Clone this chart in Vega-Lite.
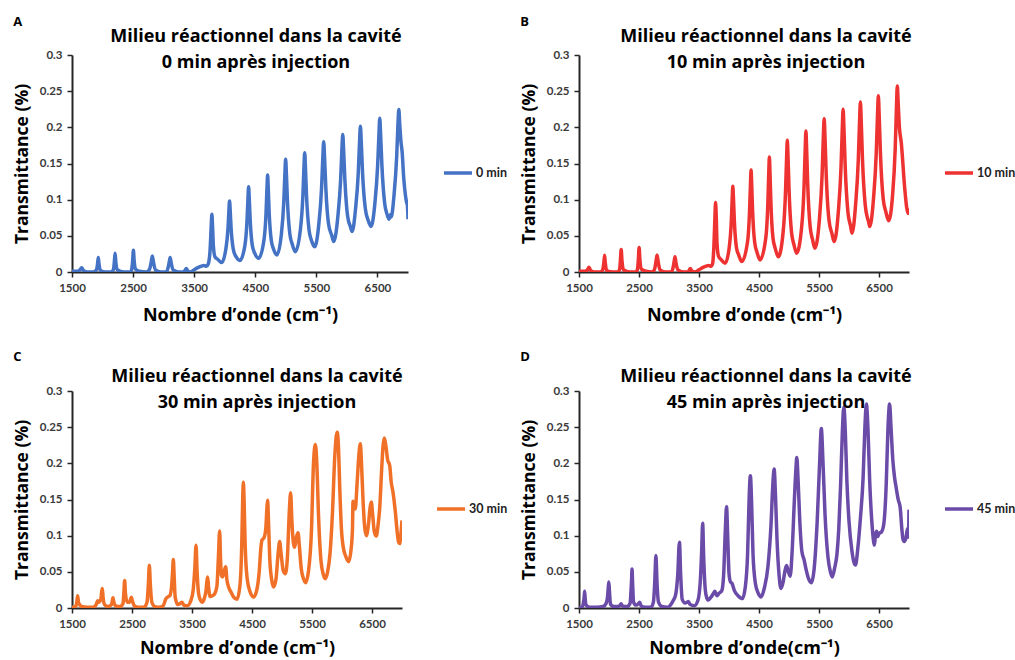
{
"$schema": "https://vega.github.io/schema/vega-lite/v6.json",
"background": "white",
"padding": {"left": 13, "top": 16, "right": 0, "bottom": 2},
"datasets": {
"A": [{"x":1500,"y":0.001},{"x":1600,"y":0.001},{"x":1630,"y":0.003},{"x":1658,"y":0.006},{"x":1690,"y":0.002},{"x":1750,"y":0},{"x":1850,"y":0},{"x":1900,"y":0.003},{"x":1918,"y":0.011},{"x":1930,"y":0.02},{"x":1942,"y":0.011},{"x":1965,"y":0.002},{"x":2050,"y":0},{"x":2150,"y":0},{"x":2180,"y":0.004},{"x":2193,"y":0.014},{"x":2205,"y":0.026},{"x":2217,"y":0.014},{"x":2240,"y":0.003},{"x":2350,"y":0},{"x":2460,"y":0},{"x":2480,"y":0.005},{"x":2493,"y":0.016},{"x":2505,"y":0.03},{"x":2517,"y":0.016},{"x":2540,"y":0.004},{"x":2600,"y":0.001},{"x":2720,"y":0},{"x":2770,"y":0.004},{"x":2795,"y":0.013},{"x":2815,"y":0.022},{"x":2835,"y":0.013},{"x":2865,"y":0.003},{"x":2950,"y":0},{"x":3040,"y":0},{"x":3070,"y":0.005},{"x":3090,"y":0.013},{"x":3107,"y":0.02},{"x":3125,"y":0.012},{"x":3155,"y":0.003},{"x":3250,"y":0},{"x":3330,"y":0},{"x":3355,"y":0.003},{"x":3370,"y":0.005},{"x":3390,"y":0.002},{"x":3440,"y":0},{"x":3500,"y":0.003},{"x":3560,"y":0.006},{"x":3620,"y":0.008},{"x":3660,"y":0.009},{"x":3700,"y":0.008},{"x":3730,"y":0.011},{"x":3760,"y":0.03},{"x":3778,"y":0.062},{"x":3790,"y":0.08},{"x":3802,"y":0.06},{"x":3815,"y":0.035},{"x":3840,"y":0.021},{"x":3880,"y":0.018},{"x":3950,"y":0.013},
{"x":4019,"y":0.032},{"x":4054,"y":0.061},{"x":4069,"y":0.086},{"x":4079,"y":0.098},{"x":4089,"y":0.086},{"x":4104,"y":0.061},{"x":4139,"y":0.032},{"x":4179,"y":0.022},{"x":4250,"y":0.016},
{"x":4331,"y":0.037},{"x":4366,"y":0.073},{"x":4381,"y":0.103},{"x":4391,"y":0.118},{"x":4401,"y":0.103},{"x":4416,"y":0.073},{"x":4451,"y":0.037},{"x":4491,"y":0.026},{"x":4555,"y":0.019},
{"x":4642,"y":0.044},{"x":4677,"y":0.083},{"x":4692,"y":0.117},{"x":4702,"y":0.134},{"x":4712,"y":0.117},{"x":4727,"y":0.083},{"x":4762,"y":0.044},{"x":4802,"y":0.031},{"x":4855,"y":0.0235},
{"x":4927,"y":0.052},{"x":4967,"y":0.0975},{"x":4985,"y":0.1365},{"x":4997,"y":0.156},{"x":5009,"y":0.1365},{"x":5027,"y":0.0975},{"x":5067,"y":0.052},{"x":5107,"y":0.038},{"x":5156,"y":0.028},
{"x":5239,"y":0.059},{"x":5279,"y":0.105},{"x":5297,"y":0.145},{"x":5309,"y":0.165},{"x":5321,"y":0.145},{"x":5339,"y":0.105},{"x":5379,"y":0.059},{"x":5419,"y":0.044},{"x":5473,"y":0.035},
{"x":5540,"y":0.066},{"x":5585,"y":0.116},{"x":5606,"y":0.159},{"x":5620,"y":0.18},{"x":5634,"y":0.159},{"x":5655,"y":0.116},{"x":5700,"y":0.066},{"x":5750,"y":0.051},{"x":5784,"y":0.042},
{"x":5852,"y":0.077},{"x":5897,"y":0.127},{"x":5918,"y":0.169},{"x":5932,"y":0.19},{"x":5946,"y":0.169},{"x":5967,"y":0.127},{"x":6012,"y":0.077},{"x":6060,"y":0.062},{"x":6085,"y":0.056},
{"x":6141,"y":0.087},{"x":6186,"y":0.137},{"x":6207,"y":0.18},{"x":6221,"y":0.2015},{"x":6235,"y":0.18},{"x":6256,"y":0.137},{"x":6301,"y":0.088},{"x":6350,"y":0.071},{"x":6396,"y":0.063},
{"x":6458,"y":0.095},{"x":6503,"y":0.147},{"x":6524,"y":0.19},{"x":6538,"y":0.2125},{"x":6552,"y":0.19},{"x":6573,"y":0.147},{"x":6618,"y":0.095},{"x":6660,"y":0.079},{"x":6690,"y":0.073},{"x":6710,"y":0.079},{"x":6725,"y":0.076},
{"x":6770,"y":0.105},{"x":6815,"y":0.16},{"x":6836,"y":0.205},{"x":6850,"y":0.2245},{"x":6864,"y":0.205},{"x":6885,"y":0.18},{"x":6904,"y":0.166},{"x":6930,"y":0.13},{"x":6955,"y":0.108},{"x":6975,"y":0.097},{"x":6990,"y":0.092},{"x":7000,"y":0.073}],
"B": [{"x":1500,"y":0.001},{"x":1600,"y":0.001},{"x":1640,"y":0.003},{"x":1666,"y":0.0065},{"x":1695,"y":0.002},{"x":1760,"y":0},{"x":1860,"y":0},{"x":1895,"y":0.003},{"x":1913,"y":0.012},{"x":1926,"y":0.023},{"x":1939,"y":0.012},{"x":1960,"y":0.002},{"x":2060,"y":0},{"x":2150,"y":0},{"x":2178,"y":0.004},{"x":2190,"y":0.016},{"x":2203,"y":0.031},{"x":2216,"y":0.016},{"x":2240,"y":0.003},{"x":2350,"y":0},{"x":2455,"y":0},{"x":2477,"y":0.005},{"x":2490,"y":0.018},{"x":2502,"y":0.034},{"x":2514,"y":0.018},{"x":2540,"y":0.004},{"x":2620,"y":0.001},{"x":2720,"y":0},{"x":2760,"y":0.004},{"x":2782,"y":0.014},{"x":2801,"y":0.0236},{"x":2820,"y":0.014},{"x":2850,"y":0.003},{"x":2950,"y":0},{"x":3035,"y":0},{"x":3065,"y":0.005},{"x":3083,"y":0.013},{"x":3100,"y":0.021},{"x":3118,"y":0.012},{"x":3150,"y":0.003},{"x":3250,"y":0},{"x":3320,"y":0},{"x":3340,"y":0.003},{"x":3355,"y":0.005},{"x":3375,"y":0.002},{"x":3430,"y":0},{"x":3500,"y":0.003},{"x":3560,"y":0.006},{"x":3620,"y":0.008},{"x":3660,"y":0.009},{"x":3700,"y":0.008},{"x":3725,"y":0.011},{"x":3748,"y":0.035},{"x":3765,"y":0.075},{"x":3776,"y":0.096},{"x":3788,"y":0.075},{"x":3800,"y":0.04},{"x":3825,"y":0.022},{"x":3870,"y":0.017},{"x":3936,"y":0.012},
{"x":4004,"y":0.034},{"x":4039,"y":0.071},{"x":4054,"y":0.103},{"x":4064,"y":0.1185},{"x":4074,"y":0.103},{"x":4089,"y":0.071},{"x":4124,"y":0.034},{"x":4164,"y":0.023},{"x":4213,"y":0.0144},
{"x":4308,"y":0.041},{"x":4343,"y":0.085},{"x":4358,"y":0.122},{"x":4368,"y":0.141},{"x":4378,"y":0.122},{"x":4393,"y":0.085},{"x":4428,"y":0.041},{"x":4468,"y":0.027},{"x":4518,"y":0.0167},
{"x":4613,"y":0.047},{"x":4648,"y":0.096},{"x":4663,"y":0.138},{"x":4673,"y":0.159},{"x":4683,"y":0.138},{"x":4698,"y":0.096},{"x":4733,"y":0.047},{"x":4773,"y":0.032},{"x":4822,"y":0.021},
{"x":4902,"y":0.055},{"x":4942,"y":0.111},{"x":4960,"y":0.158},{"x":4972,"y":0.182},{"x":4984,"y":0.158},{"x":5002,"y":0.111},{"x":5042,"y":0.055},{"x":5082,"y":0.038},{"x":5127,"y":0.026},
{"x":5212,"y":0.063},{"x":5252,"y":0.121},{"x":5270,"y":0.17},{"x":5282,"y":0.195},{"x":5294,"y":0.17},{"x":5312,"y":0.121},{"x":5352,"y":0.063},{"x":5392,"y":0.045},{"x":5431,"y":0.033},
{"x":5506,"y":0.072},{"x":5551,"y":0.133},{"x":5572,"y":0.186},{"x":5586,"y":0.212},{"x":5600,"y":0.186},{"x":5621,"y":0.133},{"x":5666,"y":0.072},{"x":5716,"y":0.053},{"x":5752,"y":0.042},
{"x":5822,"y":0.083},{"x":5867,"y":0.145},{"x":5888,"y":0.198},{"x":5902,"y":0.225},{"x":5916,"y":0.198},{"x":5937,"y":0.145},{"x":5982,"y":0.083},{"x":6025,"y":0.064},{"x":6051,"y":0.0537},
{"x":6110,"y":0.093},{"x":6155,"y":0.155},{"x":6176,"y":0.208},{"x":6190,"y":0.235},{"x":6204,"y":0.208},{"x":6225,"y":0.155},{"x":6270,"y":0.093},{"x":6310,"y":0.074},{"x":6325,"y":0.07},{"x":6345,"y":0.063},
{"x":6409,"y":0.102},{"x":6454,"y":0.164},{"x":6475,"y":0.217},{"x":6489,"y":0.2435},{"x":6503,"y":0.217},{"x":6524,"y":0.164},{"x":6569,"y":0.102},{"x":6615,"y":0.083},{"x":6661,"y":0.071},
{"x":6725,"y":0.105},{"x":6770,"y":0.17},{"x":6791,"y":0.228},{"x":6805,"y":0.257},{"x":6819,"y":0.235},{"x":6840,"y":0.2},{"x":6871,"y":0.179},{"x":6926,"y":0.1185},{"x":6960,"y":0.09},{"x":6985,"y":0.081},{"x":7000,"y":0.088}],
"C": [{"x":1500,"y":0.001},{"x":1560,"y":0.002},{"x":1580,"y":0.008},{"x":1594,"y":0.017},{"x":1608,"y":0.008},{"x":1625,"y":0.005},{"x":1660,"y":0.002},{"x":1750,"y":0.001},{"x":1850,"y":0.001},{"x":1900,"y":0.004},{"x":1928,"y":0.01},{"x":1950,"y":0.008},{"x":1980,"y":0.012},{"x":1994,"y":0.022},{"x":2006,"y":0.027},{"x":2018,"y":0.015},{"x":2040,"y":0.005},{"x":2100,"y":0.002},{"x":2160,"y":0.005},{"x":2172,"y":0.01},{"x":2183,"y":0.014},{"x":2195,"y":0.009},{"x":2230,"y":0.003},{"x":2300,"y":0.002},{"x":2350,"y":0.006},{"x":2365,"y":0.022},{"x":2378,"y":0.038},{"x":2391,"y":0.02},{"x":2420,"y":0.008},{"x":2460,"y":0.008},{"x":2475,"y":0.012},{"x":2489,"y":0.015},{"x":2505,"y":0.01},{"x":2540,"y":0.003},{"x":2600,"y":0.001},{"x":2700,"y":0.001},{"x":2750,"y":0.008},{"x":2772,"y":0.032},{"x":2789,"y":0.059},{"x":2806,"y":0.032},{"x":2830,"y":0.008},{"x":2880,"y":0.002},{"x":2950,"y":0.001},{"x":3020,"y":0.003},{"x":3060,"y":0.012},{"x":3090,"y":0.015},{"x":3130,"y":0.017},{"x":3160,"y":0.03},{"x":3176,"y":0.05},{"x":3189,"y":0.067},{"x":3202,"y":0.045},{"x":3220,"y":0.015},{"x":3260,"y":0.005},{"x":3300,"y":0.006},{"x":3333,"y":0.008},{"x":3365,"y":0.004},{"x":3420,"y":0.003},{"x":3480,"y":0.01},{"x":3520,"y":0.025},{"x":3547,"y":0.055},{"x":3567,"y":0.0867},{"x":3585,"y":0.05},{"x":3610,"y":0.02},{"x":3640,"y":0.011},{"x":3667,"y":0.008},{"x":3700,"y":0.012},{"x":3735,"y":0.025},{"x":3750,"y":0.038},{"x":3761,"y":0.043},{"x":3775,"y":0.03},{"x":3800,"y":0.016},{"x":3840,"y":0.017},{"x":3880,"y":0.02},{"x":3915,"y":0.03},{"x":3940,"y":0.07},{"x":3961,"y":0.1065},{"x":3975,"y":0.07},{"x":3990,"y":0.045},{"x":4010,"y":0.043},{"x":4040,"y":0.052},{"x":4061,"y":0.057},{"x":4080,"y":0.04},{"x":4110,"y":0.029},{"x":4150,"y":0.022},{"x":4194,"y":0.015},{"x":4250,"y":0.012},{"x":4300,"y":0.032},{"x":4330,"y":0.09},{"x":4345,"y":0.15},{"x":4356,"y":0.174},{"x":4368,"y":0.15},{"x":4385,"y":0.09},{"x":4420,"y":0.04},{"x":4470,"y":0.022},{"x":4528,"y":0.0152},{"x":4580,"y":0.025},{"x":4620,"y":0.05},{"x":4650,"y":0.085},{"x":4667,"y":0.094},{"x":4700,"y":0.097},{"x":4730,"y":0.11},{"x":4750,"y":0.14},{"x":4761,"y":0.149},{"x":4775,"y":0.12},{"x":4795,"y":0.07},{"x":4830,"y":0.038},{"x":4861,"y":0.029},{"x":4900,"y":0.04},{"x":4930,"y":0.07},{"x":4961,"y":0.092},{"x":4985,"y":0.075},{"x":5020,"y":0.052},{"x":5056,"y":0.0475},{"x":5090,"y":0.07},{"x":5120,"y":0.13},{"x":5144,"y":0.1595},{"x":5165,"y":0.12},{"x":5190,"y":0.09},{"x":5211,"y":0.084},{"x":5240,"y":0.098},{"x":5267,"y":0.104},{"x":5290,"y":0.085},{"x":5320,"y":0.055},{"x":5360,"y":0.04},{"x":5394,"y":0.035},{"x":5440,"y":0.05},{"x":5490,"y":0.105},{"x":5525,"y":0.2},{"x":5556,"y":0.226},{"x":5580,"y":0.2},{"x":5610,"y":0.125},{"x":5650,"y":0.065},{"x":5690,"y":0.046},{"x":5722,"y":0.0406},{"x":5760,"y":0.05},{"x":5800,"y":0.075},{"x":5840,"y":0.13},{"x":5880,"y":0.21},{"x":5905,"y":0.238},{"x":5922,"y":0.243},{"x":5940,"y":0.225},{"x":5965,"y":0.16},{"x":5990,"y":0.11},{"x":6030,"y":0.08},{"x":6056,"y":0.073},{"x":6090,"y":0.066},{"x":6111,"y":0.064},{"x":6150,"y":0.08},{"x":6175,"y":0.11},{"x":6183,"y":0.1475},{"x":6195,"y":0.14},{"x":6222,"y":0.137},{"x":6250,"y":0.17},{"x":6280,"y":0.21},{"x":6306,"y":0.227},{"x":6325,"y":0.2},{"x":6350,"y":0.15},{"x":6380,"y":0.11},{"x":6406,"y":0.1},{"x":6440,"y":0.115},{"x":6470,"y":0.14},{"x":6489,"y":0.1466},{"x":6510,"y":0.13},{"x":6540,"y":0.105},{"x":6572,"y":0.0996},{"x":6600,"y":0.114},{"x":6630,"y":0.14},{"x":6660,"y":0.19},{"x":6685,"y":0.225},{"x":6706,"y":0.235},{"x":6730,"y":0.225},{"x":6760,"y":0.205},{"x":6795,"y":0.197},{"x":6820,"y":0.174},{"x":6850,"y":0.16},{"x":6889,"y":0.133},{"x":6920,"y":0.105},{"x":6944,"y":0.091},{"x":6965,"y":0.089},{"x":6980,"y":0.1},{"x":7000,"y":0.121}],
"D": [{"x":1500,"y":0},{"x":1550,"y":0.001},{"x":1575,"y":0.008},{"x":1586,"y":0.015},{"x":1594,"y":0.023},{"x":1603,"y":0.013},{"x":1620,"y":0.004},{"x":1680,"y":0.001},{"x":1800,"y":0.001},{"x":1900,"y":0.002},{"x":1950,"y":0.006},{"x":1975,"y":0.015},{"x":1988,"y":0.028},{"x":1997,"y":0.036},{"x":2007,"y":0.024},{"x":2025,"y":0.005},{"x":2080,"y":0.002},{"x":2150,"y":0.002},{"x":2185,"y":0.004},{"x":2202,"y":0.006},{"x":2220,"y":0.003},{"x":2300,"y":0.002},{"x":2350,"y":0.006},{"x":2368,"y":0.025},{"x":2377,"y":0.04},{"x":2384,"y":0.054},{"x":2393,"y":0.035},{"x":2410,"y":0.008},{"x":2450,"y":0.004},{"x":2490,"y":0.006},{"x":2511,"y":0.008},{"x":2535,"y":0.003},{"x":2600,"y":0.001},{"x":2700,"y":0.001},{"x":2740,"y":0.008},{"x":2762,"y":0.035},{"x":2782,"y":0.0725},{"x":2800,"y":0.035},{"x":2825,"y":0.008},{"x":2880,"y":0.002},{"x":2980,"y":0.001},{"x":3040,"y":0.006},{"x":3075,"y":0.011},{"x":3110,"y":0.018},{"x":3145,"y":0.045},{"x":3174,"y":0.091},{"x":3195,"y":0.045},{"x":3220,"y":0.012},{"x":3270,"y":0.007},{"x":3300,"y":0.008},{"x":3323,"y":0.009},{"x":3350,"y":0.005},{"x":3420,"y":0.003},{"x":3480,"y":0.01},{"x":3520,"y":0.035},{"x":3545,"y":0.08},{"x":3561,"y":0.117},{"x":3578,"y":0.07},{"x":3605,"y":0.025},{"x":3630,"y":0.014},{"x":3655,"y":0.011},{"x":3700,"y":0.015},{"x":3740,"y":0.02},{"x":3765,"y":0.023},{"x":3790,"y":0.018},{"x":3800,"y":0.017},{"x":3830,"y":0.02},{"x":3880,"y":0.024},{"x":3910,"y":0.045},{"x":3940,"y":0.11},{"x":3959,"y":0.14},{"x":3978,"y":0.1},{"x":4000,"y":0.048},{"x":4025,"y":0.036},{"x":4050,"y":0.034},{"x":4090,"y":0.024},{"x":4150,"y":0.017},{"x":4224,"y":0.013},{"x":4270,"y":0.028},{"x":4310,"y":0.075},{"x":4335,"y":0.15},{"x":4356,"y":0.183},{"x":4377,"y":0.145},{"x":4400,"y":0.075},{"x":4440,"y":0.034},{"x":4490,"y":0.02},{"x":4535,"y":0.0153},{"x":4590,"y":0.028},{"x":4650,"y":0.058},{"x":4700,"y":0.115},{"x":4730,"y":0.17},{"x":4752,"y":0.192},{"x":4775,"y":0.155},{"x":4800,"y":0.095},{"x":4835,"y":0.045},{"x":4865,"y":0.027},{"x":4900,"y":0.035},{"x":4930,"y":0.05},{"x":4959,"y":0.0586},{"x":4990,"y":0.05},{"x":5020,"y":0.044},{"x":5050,"y":0.075},{"x":5090,"y":0.15},{"x":5115,"y":0.192},{"x":5130,"y":0.208},{"x":5150,"y":0.18},{"x":5180,"y":0.12},{"x":5215,"y":0.078},{"x":5252,"y":0.0665},{"x":5280,"y":0.055},{"x":5320,"y":0.042},{"x":5373,"y":0.035},{"x":5420,"y":0.055},{"x":5470,"y":0.12},{"x":5510,"y":0.2},{"x":5539,"y":0.248},{"x":5565,"y":0.205},{"x":5600,"y":0.13},{"x":5650,"y":0.07},{"x":5690,"y":0.05},{"x":5721,"y":0.043},{"x":5760,"y":0.055},{"x":5800,"y":0.075},{"x":5830,"y":0.11},{"x":5860,"y":0.17},{"x":5890,"y":0.245},{"x":5914,"y":0.278},{"x":5938,"y":0.245},{"x":5965,"y":0.175},{"x":6000,"y":0.12},{"x":6050,"y":0.078},{"x":6080,"y":0.064},{"x":6108,"y":0.0595},{"x":6150,"y":0.085},{"x":6191,"y":0.125},{"x":6235,"y":0.18},{"x":6265,"y":0.25},{"x":6290,"y":0.282},{"x":6315,"y":0.25},{"x":6345,"y":0.175},{"x":6380,"y":0.12},{"x":6410,"y":0.092},{"x":6423,"y":0.087},{"x":6440,"y":0.1},{"x":6460,"y":0.106},{"x":6480,"y":0.099},{"x":6500,"y":0.103},{"x":6540,"y":0.105},{"x":6578,"y":0.115},{"x":6620,"y":0.17},{"x":6650,"y":0.25},{"x":6677,"y":0.282},{"x":6700,"y":0.25},{"x":6730,"y":0.205},{"x":6760,"y":0.18},{"x":6787,"y":0.166},{"x":6820,"y":0.15},{"x":6853,"y":0.139},{"x":6880,"y":0.11},{"x":6900,"y":0.095},{"x":6920,"y":0.092},{"x":6950,"y":0.097},{"x":6975,"y":0.11},{"x":6990,"y":0.098},{"x":7000,"y":0.136}]
},
"columns": 2,
"spacing": {"row": 26, "column": 12},
"resolve": {"scale": {"color": "independent"}, "legend": {"color": "independent"}},
"concat": [
{"title": {"text": "A", "anchor": "start", "frame": "bounds", "fontSize": 13, "lineHeight": 13, "offset": -1},
 "vconcat": [{
  "width": 336, "height": 217,
  "title": {"text": ["Milieu réactionnel dans la cavité", "0 min après injection"], "anchor": "middle", "frame": "group", "dx": 16, "offset": -23},
  "data": {"name": "A"},
  "mark": {"type": "line", "strokeWidth": 3.5, "interpolate": "monotone", "clip": true},
  "encoding": {
   "x": {"field": "x", "type": "quantitative", "scale": {"domain": [1500, 7000], "nice": false, "zero": false}, "axis": {"values": [1500, 2500, 3500, 4500, 5500, 6500], "format": "d", "title": "Nombre d’onde (cm⁻¹)"}},
   "y": {"field": "y", "type": "quantitative", "scale": {"domain": [0, 0.3], "nice": false}, "axis": {"values": [0, 0.05, 0.1, 0.15, 0.2, 0.25, 0.3], "format": "~g", "title": "Transmittance (%)"}},
   "color": {"datum": "0 min", "scale": {"range": ["#4472C4"]}, "legend": {"title": null, "orient": "none", "legendX": 370, "legendY": 102}}
  }
 }]
},
{"title": {"text": "B", "anchor": "start", "frame": "bounds", "fontSize": 13, "lineHeight": 13, "offset": -1},
 "vconcat": [{
  "width": 330, "height": 217,
  "title": {"text": ["Milieu réactionnel dans la cavité", "10 min après injection"], "anchor": "middle", "frame": "group", "dx": 22, "offset": -23},
  "data": {"name": "B"},
  "mark": {"type": "line", "strokeWidth": 3.5, "interpolate": "monotone", "clip": true},
  "encoding": {
   "x": {"field": "x", "type": "quantitative", "scale": {"domain": [1500, 7000], "nice": false, "zero": false}, "axis": {"values": [1500, 2500, 3500, 4500, 5500, 6500], "format": "d", "title": "Nombre d’onde (cm⁻¹)"}},
   "y": {"field": "y", "type": "quantitative", "scale": {"domain": [0, 0.3], "nice": false}, "axis": {"values": [0, 0.05, 0.1, 0.15, 0.2, 0.25, 0.3], "format": "~g", "title": "Transmittance (%)"}},
   "color": {"datum": "10 min", "scale": {"range": ["#EE3131"]}, "legend": {"title": null, "orient": "none", "legendX": 364, "legendY": 102}}
  }
 }]
},
{"title": {"text": "C", "anchor": "start", "frame": "bounds", "fontSize": 13, "lineHeight": 13, "offset": 4},
 "vconcat": [{
  "width": 330, "height": 217,
  "title": {"text": ["Milieu réactionnel dans la cavité", "30 min après injection"], "anchor": "middle", "frame": "group", "dx": 20, "offset": -27},
  "data": {"name": "C"},
  "mark": {"type": "line", "strokeWidth": 3.5, "interpolate": "monotone", "clip": true},
  "encoding": {
   "x": {"field": "x", "type": "quantitative", "scale": {"domain": [1500, 7000], "nice": false, "zero": false}, "axis": {"values": [1500, 2500, 3500, 4500, 5500, 6500], "format": "d", "title": "Nombre d’onde (cm⁻¹)", "titlePadding": 10}},
   "y": {"field": "y", "type": "quantitative", "scale": {"domain": [0, 0.3], "nice": false}, "axis": {"values": [0, 0.05, 0.1, 0.15, 0.2, 0.25, 0.3], "format": "~g", "title": "Transmittance (%)"}},
   "color": {"datum": "30 min", "scale": {"range": ["#F07028"]}, "legend": {"title": null, "orient": "none", "legendX": 363, "legendY": 102}}
  }
 }]
},
{"title": {"text": "D", "anchor": "start", "frame": "bounds", "fontSize": 13, "lineHeight": 13, "offset": 4},
 "vconcat": [{
  "width": 330, "height": 217,
  "title": {"text": ["Milieu réactionnel dans la cavité", "45 min après injection"], "anchor": "middle", "frame": "group", "dx": 22, "offset": -27},
  "data": {"name": "D"},
  "mark": {"type": "line", "strokeWidth": 3.5, "interpolate": "monotone", "clip": true},
  "encoding": {
   "x": {"field": "x", "type": "quantitative", "scale": {"domain": [1500, 7000], "nice": false, "zero": false}, "axis": {"values": [1500, 2500, 3500, 4500, 5500, 6500], "format": "d", "title": "Nombre d’onde(cm⁻¹)", "titlePadding": 10}},
   "y": {"field": "y", "type": "quantitative", "scale": {"domain": [0, 0.3], "nice": false}, "axis": {"values": [0, 0.05, 0.1, 0.15, 0.2, 0.25, 0.3], "format": "~g", "title": "Transmittance (%)"}},
   "color": {"datum": "45 min", "scale": {"range": ["#6B4BA8"]}, "legend": {"title": null, "orient": "none", "legendX": 364, "legendY": 102}}
  }
 }]
}
],
"config": {
 "font": "Lato",
 "view": {"stroke": null},
 "axis": {"grid": false, "domainColor": "#262626", "domainWidth": 2, "tickColor": "#262626", "tickWidth": 1.5, "tickSize": 5, "labelFont": "Lato", "labelFontSize": 11.5, "labelFontWeight": "bold", "labelColor": "#3a3a3a", "labelPadding": 5, "labelFlush": false, "labelOverlap": false, "titleFont": "Open Sans", "titleFontSize": 17.5, "titleFontWeight": "bold", "titleColor": "#000000"},
 "axisX": {"titlePadding": 13, "titleFontSize": 18},
 "axisY": {"titlePadding": 8},
 "legend": {"symbolType": "stroke", "symbolSize": 784, "symbolStrokeWidth": 3.5, "labelOffset": 2, "labelFont": "Lato", "labelFontSize": 12.5, "labelFontWeight": "bold", "labelColor": "#222222", "padding": 0},
 "title": {"font": "Open Sans", "fontSize": 18, "fontWeight": "bold", "color": "#000000", "lineHeight": 26}
}
}
